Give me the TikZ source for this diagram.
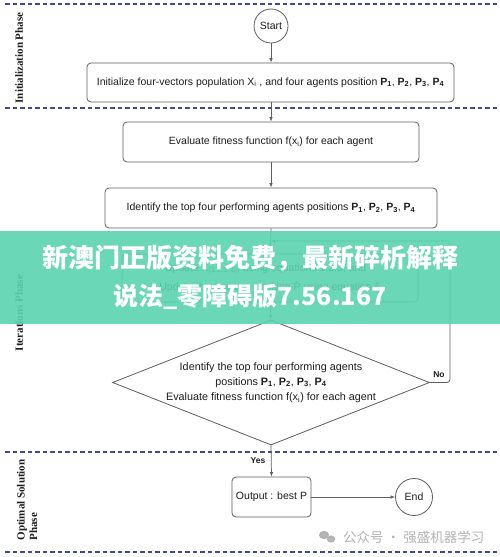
\documentclass[tikz,border=0pt]{standalone}
\usepackage{fontspec}
\setmainfont{Liberation Sans}
\newfontfamily\phasefont{Liberation Serif}
\newfontfamily\cjk{Noto Sans CJK SC}
\usetikzlibrary{shapes.geometric,arrows.meta}
\definecolor{dashnavy}{RGB}{70,70,150}
\definecolor{edge}{RGB}{95,95,95}
\definecolor{ink}{RGB}{30,30,30}
\definecolor{band}{RGB}{90,212,175}
\definecolor{wmgray}{RGB}{180,180,180}
\newcommand{\Pb}[1]{\textbf{P\textsubscript{#1}}}
\begin{document}
\begin{tikzpicture}[x=1pt,y=-1pt,
  procbox/.style={draw=edge,line width=0.8pt,rounded corners=4pt,inner sep=0pt,align=center,text=ink,font=\fontsize{10.5}{12}\selectfont},
  termcirc/.style={draw=edge,line width=0.8pt,circle,inner sep=0pt,text=ink,font=\fontsize{10.5}{12}\selectfont},
  flow/.style={draw=edge,line width=0.75pt,-{Latex[length=4.5pt,width=3.5pt]}},
  phase/.style={rotate=90,font=\phasefont\bfseries\fontsize{11}{12.5}\selectfont,text=ink,inner sep=0pt},
  sepline/.style={draw=dashnavy,line width=1.1pt,dash pattern=on 4.5pt off 3pt},
  small/.style={font=\bfseries\fontsize{8.5}{10}\selectfont,text=ink,inner sep=0pt}]
\useasboundingbox (0,0) rectangle (500,557);
\fill[white] (0,0) rectangle (500,557);
% phase separators
\draw[sepline] (5,4) -- (500,4);
\draw[sepline] (5,108) -- (500,108);
\draw[sepline] (5,452) -- (500,452);
\draw[sepline] (5,552) -- (500,552);
% phase labels
\node[phase] (ph1) at (19,58) {Initialization Phase};
\node[phase] (ph2) at (19,313) {Iterations Phase};
\node[phase,align=left] (ph3) at (27,500) {Optimal Solution\\Phase};
% nodes
\node[termcirc,minimum size=34pt] (start) at (271,26) {Start};
\node[procbox,minimum width=367pt,minimum height=39pt] (init) at (270.5,82.5)
  {Initialize four-vectors population X\textsubscript{i} , and four agents position \Pb{1}, \Pb{2}, \Pb{3}, \Pb{4}};
\node[procbox,minimum width=296pt,minimum height=40pt] (eval) at (271,142)
  {Evaluate fitness function f(x\textsubscript{i}) for each agent};
\node[procbox,minimum width=332pt,minimum height=40pt] (ident) at (271,208)
  {Identify the top four performing agents positions \Pb{1}, \Pb{2}, \Pb{3}, \Pb{4}};
\node[procbox,minimum width=296pt,minimum height=48pt,font=\fontsize{10.5}{19}\selectfont] (upd) at (270,278)
  {Update X\textsubscript{(1,2,3,4),i} using equations 1,2,3, and 4\\Update the average position \={P} using equation 5};
\node[draw=edge,line width=0.8pt,diamond,minimum width=317pt,minimum height=125pt,inner sep=0pt] (dec) at (271,382.5) {};
\node[align=center,text=ink,font=\fontsize{10.8}{15}\selectfont,inner sep=0pt] (dectext) at (dec.center)
  {Identify the top four performing agents\\positions \Pb{1}, \Pb{2}, \Pb{3}, \Pb{4}\\Evaluate fitness function f(x\textsubscript{i}) for each agent};
\node[procbox,minimum width=79pt,minimum height=40pt,font=\fontsize{10.5}{12}\selectfont] (out) at (271.5,497) {Output : best P};
\node[termcirc,minimum size=37pt] (end) at (414,497) {End};
\coordinate (fbjoin) at (271,241);
% connectors
\draw[flow] (start) -- (init.north -| start);
\draw[flow] (init.south -| eval.north) -- (eval.north);
\draw[flow] (eval) -- (ident);
\draw[flow] (ident.south) -- (upd.north);
\draw[flow] (upd.south) -- (dec.north);
\draw[flow,rounded corners=3pt] (dec.east) -- ++(20,0) |- (fbjoin);
\draw[flow] (dec.south) -- (out.north);
\draw[flow] (out) -- (end);
\node[small] (nolbl) at (439,375) {No};
\node[small] (yeslbl) at (258,461) {Yes};
% watermark band
\fill[band,opacity=0.9] (0,231) rectangle (500,324);
\node[text=white,font=\cjk\bfseries\fontsize{26}{30}\selectfont,inner sep=0pt] (wm1) at (250,258) {新澳门正版资料免费，最新碎析解释};
\node[text=white,font=\cjk\bfseries\fontsize{25}{30}\selectfont,inner sep=0pt] (wm2) at (250,297) {说法\_零障碍版7.56.167};
% footer watermark
\fill[wmgray] (324,535) ellipse (5pt and 4.2pt);
\fill[wmgray] (331,539) ellipse (4.2pt and 3.6pt);
\node[text=wmgray,font=\cjk\fontsize{13.5}{15}\selectfont,inner sep=0pt,anchor=west] (wm3) at (343,537) {公众号 · 强盛机器学习};
\end{tikzpicture}
\end{document}
